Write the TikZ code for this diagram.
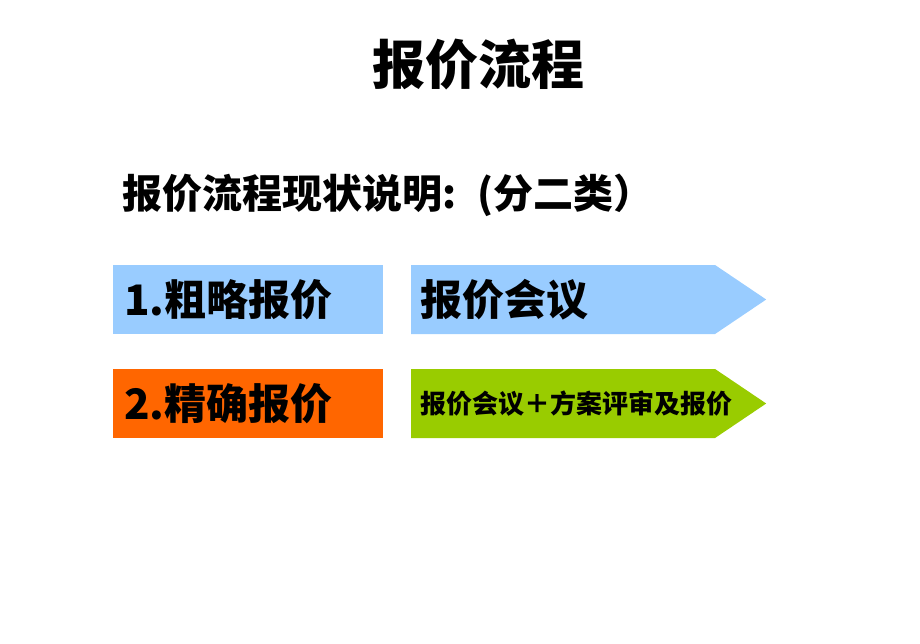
\documentclass[tikz,border=0pt]{standalone}
\usepackage{fontspec}
\setmainfont{Noto Sans CJK SC}
\usetikzlibrary{positioning,shapes.symbols}

\definecolor{roughblue}{HTML}{99CCFF}
\definecolor{exactorange}{HTML}{FF6600}
\definecolor{meetblue}{HTML}{99CCFF}
\definecolor{meetgreen}{HTML}{99CC00}

\begin{document}
\begin{tikzpicture}[x=1pt, y=-1pt,
  kind/.style={rectangle, minimum width=270pt, minimum height=69pt, inner sep=0pt, anchor=west},
  flow/.style={signal, signal to=east, signal pointer angle=68, minimum width=355pt, minimum height=69pt, inner sep=0pt, anchor=west},
  label text/.style={inner sep=0pt, anchor=west}]

\useasboundingbox (0,0) rectangle (920,643);

\node [font=\bfseries\fontsize{53}{60}\selectfont] (title) at (478,65) {报价流程};
\node [label text, font=\bfseries\fontsize{40}{46}\selectfont] (sub) at (122,195) {报价流程现状说明: \ (分二类）};

\foreach \n/\c/\t/\fc/\ft/\fs [count=\y] in {rough/roughblue/1.粗略报价/meetblue/报价会议/42, exact/exactorange/2.精确报价/meetgreen/报价会议＋方案评审及报价/26}
{
  \node [kind, fill=\c] (\n) at (113,195.5+\y*104) {};
  \node [label text, right=11pt of \n.west, font=\bfseries\fontsize{42}{46}\selectfont] (\n-text) {\t};
  \node [flow, fill=\fc] (\n-flow) at (411,195.5+\y*104) {};
  \node [label text, right=9pt of \n-flow.west, font=\bfseries\fontsize{\fs}{\fs}\selectfont] (\n-flow-text) {\ft};
}

\end{tikzpicture}
\end{document}
